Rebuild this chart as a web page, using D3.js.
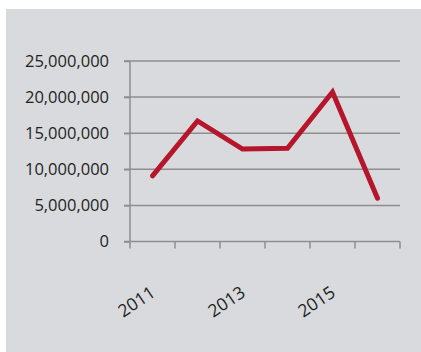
<!DOCTYPE html>
<html>
<head>
<meta charset="utf-8">
<script src="https://cdn.jsdelivr.net/npm/d3@7"></script>
<style>
  body { margin: 0; background: #fff; }
  text { font-family: "Open Sans", sans-serif; fill: #231f20; }
</style>
</head>
<body>
<div id="scene"></div>
<script>
var years = ["2011", "2012", "2013", "2014", "2015", "2016"];
var values = [9100000, 16700000, 12800000, 12900000, 20700000, 6000000];
var yTicks = [0, 5000000, 10000000, 15000000, 20000000, 25000000];
var shownYears = ["2011", "2013", "2015"];

var ctx = {
  w: 421,
  h: 352,
  left: 130,
  right: 400,
  top: 61,
  bottom: 241.5,
  grid: "#8e8e8e",
  line: "#b5162b"
};

var svg = d3.select("#scene").append("svg")
  .attr("width", ctx.w)
  .attr("height", ctx.h);

svg.append("rect")
  .attr("x", 6).attr("y", 9)
  .attr("width", ctx.w - 6).attr("height", ctx.h - 9)
  .attr("fill", "#d9dadd");

var x = d3.scaleBand().domain(years).range([ctx.left, ctx.right]);
var y = d3.scaleLinear().domain([0, 25000000]).range([ctx.bottom, ctx.top]);

// gridlines
svg.append("g").selectAll("line")
  .data(yTicks.slice(1))
  .enter().append("line")
  .attr("x1", ctx.left - 6).attr("x2", ctx.right)
  .attr("y1", function(d) { return y(d); })
  .attr("y2", function(d) { return y(d); })
  .attr("stroke", ctx.grid)
  .attr("stroke-width", 1.5);

// y axis
var yAxis = svg.append("g")
  .attr("transform", "translate(" + ctx.left + ",0)")
  .call(d3.axisLeft(y).tickValues(yTicks).tickSize(6).tickPadding(15)
    .tickFormat(d3.format(",")));
yAxis.selectAll("line, path").attr("stroke", ctx.grid).attr("stroke-width", 1.5);
yAxis.select(".domain").attr("d", "M0," + ctx.top + "V" + ctx.bottom);
yAxis.selectAll("text")
  .style("font-family", "'Open Sans', sans-serif")
  .style("font-size", "16.5px")
  .attr("fill", "#231f20");

// x axis
var xAxis = svg.append("g")
  .attr("transform", "translate(0," + ctx.bottom + ")");
xAxis.append("line")
  .attr("x1", ctx.left - 6).attr("x2", ctx.right)
  .attr("stroke", ctx.grid).attr("stroke-width", 1.5);
var edges = years.map(function(d) { return x(d); }).concat([ctx.right]);
xAxis.selectAll(".tick")
  .data(edges)
  .enter().append("line")
  .attr("x1", function(d) { return d; })
  .attr("x2", function(d) { return d; })
  .attr("y1", 0).attr("y2", 7)
  .attr("stroke", ctx.grid).attr("stroke-width", 1.5);
xAxis.selectAll("text")
  .data(shownYears)
  .enter().append("text")
  .attr("text-anchor", "end")
  .attr("transform", function(d) {
    return "translate(" + (x(d) + x.bandwidth() / 2 + 4) + ",54) rotate(-34)";
  })
  .style("font-size", "17.5px")
  .text(function(d) { return d; });

// line
var line = d3.line()
  .x(function(d, i) { return x(years[i]) + x.bandwidth() / 2; })
  .y(function(d) { return y(d); });

svg.append("path")
  .datum(values)
  .attr("d", line)
  .attr("fill", "none")
  .attr("stroke", ctx.line)
  .attr("stroke-width", 5)
  .attr("stroke-linecap", "round")
  .attr("stroke-linejoin", "miter");
</script>
</body>
</html>
